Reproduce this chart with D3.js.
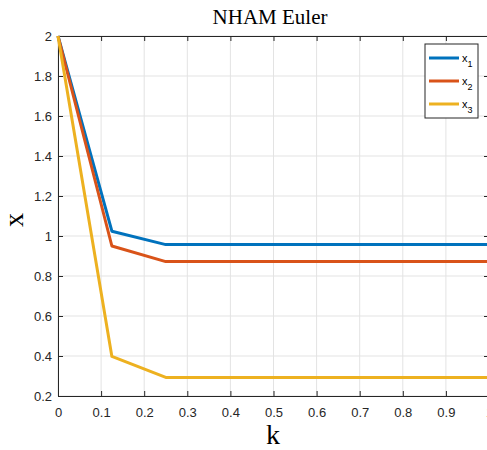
<!DOCTYPE html>
<html>
<head>
<meta charset="utf-8">
<script src="https://cdn.jsdelivr.net/npm/d3@7"></script>
<style>
  body { margin: 0; background: #fff; }
  svg { display: block; }
</style>
</head>
<body>
<div id="chart"></div>
<script>
// Sample points of k and the three state trajectories.
var kValues = [0, 0.125, 0.25, 0.375, 0.5, 0.625, 0.75, 0.875, 1];
var x1 = [2, 1.024, 0.957, 0.957, 0.957, 0.957, 0.957, 0.957, 0.957];
var x2 = [2, 0.950, 0.872, 0.872, 0.872, 0.872, 0.872, 0.872, 0.872];
var x3 = [2, 0.398, 0.293, 0.293, 0.293, 0.293, 0.293, 0.293, 0.293];
var seriesNames = ["1", "2", "3"];
var xTicks = [0, 0.1, 0.2, 0.3, 0.4, 0.5, 0.6, 0.7, 0.8, 0.9, 1];
var yTicks = [0.2, 0.4, 0.6, 0.8, 1, 1.2, 1.4, 1.6, 1.8, 2];

var colors = ["#0072BD", "#D95319", "#EDB120"];
var width = 487, height = 450;
var margin = {top: 36, right: -2, bottom: 54, left: 58};

var svg = d3.select("#chart").append("svg")
    .attr("width", width)
    .attr("height", height);

var x = d3.scaleLinear().domain([0, 1]).range([margin.left, width - margin.right]);
var y = d3.scaleLinear().domain([0.2, 2]).range([height - margin.bottom, margin.top]);

// Grid lines
var grid = svg.append("g").attr("class", "grid");
grid.selectAll("line.gx").data(xTicks).enter().append("line")
    .attr("x1", function(d) { return x(d); }).attr("x2", function(d) { return x(d); })
    .attr("y1", y(0.2)).attr("y2", y(2))
    .attr("stroke", "#e3e3e3").attr("stroke-width", 1);
grid.selectAll("line.gy").data(yTicks).enter().append("line")
    .attr("y1", function(d) { return y(d); }).attr("y2", function(d) { return y(d); })
    .attr("x1", x(0)).attr("x2", x(1))
    .attr("stroke", "#e3e3e3").attr("stroke-width", 1);

// Axes (ticks point inward, MATLAB style)
var fmt = function(d) { return d3.format("")(d); };
var axBottom = svg.append("g").attr("transform", "translate(0," + y(0.2) + ")")
    .call(d3.axisBottom(x).tickValues(xTicks).tickSizeInner(-5).tickSizeOuter(0).tickPadding(12).tickFormat(fmt));
var axTop = svg.append("g").attr("transform", "translate(0," + y(2) + ")")
    .call(d3.axisTop(x).tickValues(xTicks).tickSizeInner(-5).tickSizeOuter(0).tickFormat(""));
var axLeft = svg.append("g").attr("transform", "translate(" + x(0) + ",0)")
    .call(d3.axisLeft(y).tickValues(yTicks).tickSizeInner(-5).tickSizeOuter(0).tickPadding(6).tickFormat(fmt));
var axRight = svg.append("g").attr("transform", "translate(" + x(1) + ",0)")
    .call(d3.axisRight(y).tickValues(yTicks).tickSizeInner(-5).tickSizeOuter(0).tickFormat(""));
[axBottom, axTop, axLeft, axRight].forEach(function(a) {
    a.attr("font-size", 13).attr("font-family", "'Liberation Sans', Arial, sans-serif");
    a.select(".domain").attr("stroke", "#262626");
    a.selectAll(".tick line").attr("stroke", "#262626");
    a.selectAll(".tick text").attr("fill", "#262626");
});

// Lines
var line = d3.line()
    .x(function(d, i) { return x(kValues[i]); })
    .y(function(d) { return y(d); });
[x1, x2, x3].forEach(function(s, i) {
    svg.append("path").datum(s)
        .attr("fill", "none")
        .attr("stroke", colors[i])
        .attr("stroke-width", 3)
        .attr("stroke-linejoin", "round")
        .attr("d", line);
});

// Title and axis labels
svg.append("text")
    .attr("x", 270).attr("y", 24)
    .attr("text-anchor", "middle")
    .style("font-family", "'Liberation Serif', 'Times New Roman', serif")
    .style("font-size", "21px").attr("fill", "#000")
    .text("NHAM Euler");
svg.append("text")
    .attr("x", 273).attr("y", 444)
    .attr("text-anchor", "middle")
    .style("font-family", "'Liberation Serif', 'Times New Roman', serif")
    .style("font-size", "28px").attr("fill", "#000")
    .text("k");
svg.append("text")
    .attr("transform", "translate(23," + y(1.08) + ") rotate(-90)")
    .attr("text-anchor", "middle")
    .style("font-family", "'Liberation Serif', 'Times New Roman', serif")
    .style("font-size", "28px").attr("fill", "#000")
    .text("x");

// Legend
var legend = svg.append("g").attr("transform", "translate(425,44)");
legend.append("rect")
    .attr("width", 53).attr("height", 74)
    .attr("fill", "#fff").attr("stroke", "#262626").attr("stroke-width", 1);
seriesNames.forEach(function(n, i) {
    var row = legend.append("g").attr("transform", "translate(0," + (14 + i * 23) + ")");
    row.append("line")
        .attr("x1", 4).attr("x2", 34)
        .attr("stroke", colors[i]).attr("stroke-width", 3);
    var t = row.append("text")
        .attr("x", 37).attr("y", 4)
        .style("font-family", "'Liberation Sans', Arial, sans-serif")
        .style("font-size", "11px").attr("fill", "#000");
    t.append("tspan").text("x");
    t.append("tspan").attr("dy", 5).style("font-size", "9px").text(n);
});
</script>
</body>
</html>
